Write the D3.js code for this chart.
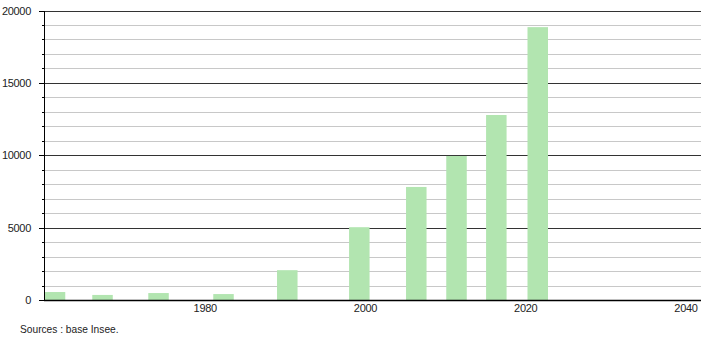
<!DOCTYPE html>
<html><head><meta charset="utf-8">
<script src="https://cdn.jsdelivr.net/npm/d3@7"></script>
<style>body{margin:0;background:#fff}svg{display:block}text{font-family:"Liberation Sans",Arial,sans-serif;font-size:11px;fill:#222}</style>
</head><body><svg id="c" width="710" height="340"></svg>
<script>
const censusYears = [1962, 1968, 1975, 1982, 1990, 1999, 2006, 2011, 2016, 2022];
const barPositions = [1961.25, 1967.18, 1974.17, 1982.28, 1990.24, 1999.23, 2006.34, 2011.36, 2016.33, 2021.5];
const population = [550, 350, 480, 410, 2060, 5030, 7810, 9950, 12780, 18850];
const xTicks = [1980, 2000, 2020, 2040];
const yTicks = [0, 5000, 10000, 15000, 20000];
const source = "Sources : base Insee.";

const svg = d3.select("#c");
const pLeft = 44, pRight = 701, pTop = 10.5, pBottom = 300;
const x = d3.scaleLinear().domain([1960, 2042]).range([45, 702]);
const y = d3.scaleLinear().domain([0, 20000]).range([pBottom, pTop]);

// gridlines
const minor = d3.range(1000, 20001, 1000).filter(v => v % 5000 !== 0);
svg.append("g").selectAll("line").data(minor).join("line")
  .attr("x1", pLeft).attr("x2", pRight)
  .attr("y1", d => Math.round(y(d)) + 0.5).attr("y2", d => Math.round(y(d)) + 0.5)
  .attr("stroke", "#c8c8c8").attr("stroke-width", 1);

// major gridlines
svg.append("g").selectAll("line").data(yTicks.filter(v => v > 0)).join("line")
  .attr("x1", pLeft).attr("x2", pRight)
  .attr("y1", d => Math.round(y(d)) + 0.5).attr("y2", d => Math.round(y(d)) + 0.5)
  .attr("stroke", "#333").attr("stroke-width", 1);

// bars
const bw = 20.5;
svg.append("g").selectAll("rect").data(population).join("rect")
  .attr("x", (d, i) => x(barPositions[i]) - bw / 2)
  .attr("width", bw)
  .attr("y", d => y(d))
  .attr("height", d => pBottom - y(d))
  .attr("fill", "#b2e5b0");

// y tick marks
svg.append("g").selectAll("line").data(minor).join("line")
  .attr("x1", pLeft - 2).attr("x2", pLeft)
  .attr("y1", d => Math.round(y(d)) + 0.5).attr("y2", d => Math.round(y(d)) + 0.5)
  .attr("stroke", "#000");
svg.append("g").selectAll("line").data(yTicks).join("line")
  .attr("x1", pLeft - 5).attr("x2", pLeft)
  .attr("y1", d => Math.round(y(d)) + 0.5).attr("y2", d => Math.round(y(d)) + 0.5)
  .attr("stroke", "#000");

// axes lines
svg.append("line").attr("x1", pLeft + 0.5).attr("x2", pLeft + 0.5)
  .attr("y1", Math.round(y(20000))).attr("y2", pBottom + 1).attr("stroke", "#000");
svg.append("line").attr("x1", pLeft).attr("x2", pRight)
  .attr("y1", pBottom + 0.5).attr("y2", pBottom + 0.5).attr("stroke", "#000").attr("stroke-width", 1.5);

// y labels
svg.append("g").selectAll("text").data(yTicks).join("text")
  .attr("x", 31).attr("y", d => y(d) + 4).attr("text-anchor", "end")
  .style("letter-spacing", "-0.3px").text(d => d);

// x labels
svg.append("g").selectAll("text").data(xTicks).join("text")
  .attr("x", d => Math.min(x(d), 688)).attr("y", 312).attr("text-anchor", "middle")
  .style("letter-spacing", "-0.3px").text(d => d);

svg.append("text").attr("x", 20).attr("y", 333).style("font-size", "10.2px").text(source);
</script></body></html>
